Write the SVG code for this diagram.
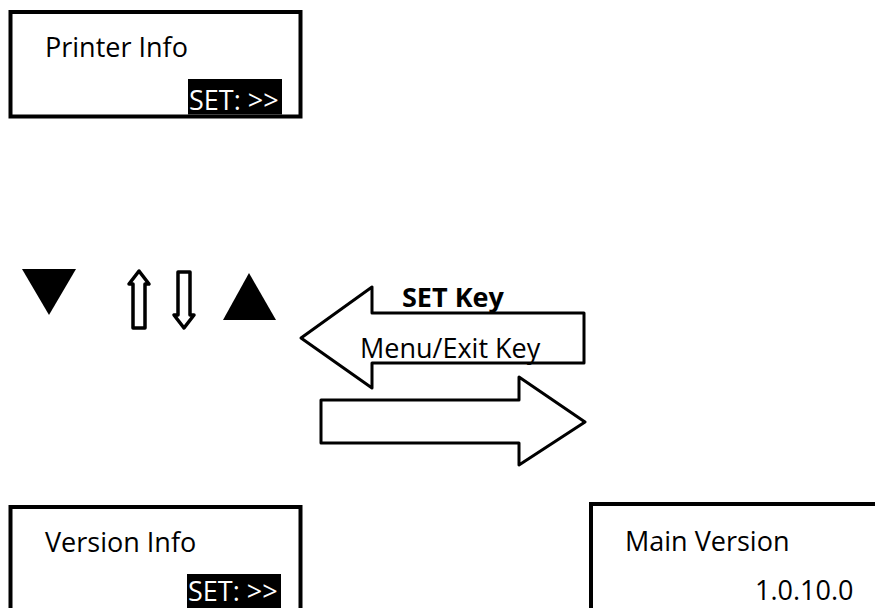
<svg xmlns="http://www.w3.org/2000/svg" width="875" height="608" viewBox="0 0 875 608">
<style>
.box{fill:#fff;stroke:#000;stroke-width:4}
.t{font-family:"Open Sans","Liberation Sans",sans-serif;font-size:27px;fill:#000}
.w{fill:#fff}
.b{font-weight:bold}
.hollow{fill:#fff;stroke:#000;stroke-width:3;stroke-linejoin:round}
.small{stroke-width:3.5}
.solid{fill:#000}
</style>
<rect width="875" height="608" fill="#fff"/>
<g id="printer-info">
<rect class="box" x="10.5" y="12" width="290" height="104.5"/>
<text class="t" x="45" y="57">Printer Info</text>
<rect class="solid" x="188" y="79" width="94" height="35.5"/>
<text class="t w" x="189" y="110">SET: &gt;&gt;</text>
</g>
<g id="down-key">
<polygon class="solid" points="22,269 76,269 49,315"/>
</g>
<g id="up-hollow-arrow">
<polygon class="hollow small" points="139,271 149,284 145,284 145,328 133,328 133,284 129,284"/>
</g>
<g id="down-hollow-arrow">
<polygon class="hollow small" points="178,272 190,272 190,315 194,315 184,328 174,315 178,315"/>
</g>
<g id="up-key">
<polygon class="solid" points="249,273 276,320 223,320"/>
</g>
<g id="set-key-arrow">
<polygon class="hollow" points="301,338 372,287 372,313 584,313 584,363 372,363 372,388"/>
<text class="t b" x="402" y="307">SET Key</text>
<text class="t" x="360" y="358">Menu/Exit Key</text>
</g>
<g id="menu-exit-arrow">
<polygon class="hollow" points="321,400 519,400 519,377 585,422 519,465 519,443 321,443"/>
</g>
<g id="version-info">
<rect class="box" x="10.5" y="507" width="290" height="110"/>
<text class="t" x="45" y="552">Version Info</text>
<rect class="solid" x="187" y="574" width="94" height="40"/>
<text class="t w" x="188" y="601">SET: &gt;&gt;</text>
</g>
<g id="main-version">
<rect class="box" x="591" y="504" width="300" height="120"/>
<text class="t" x="625" y="551">Main Version</text>
<text class="t" x="755" y="600">1.0.10.0</text>
</g>
<g id="connectors"></g>
</svg>
